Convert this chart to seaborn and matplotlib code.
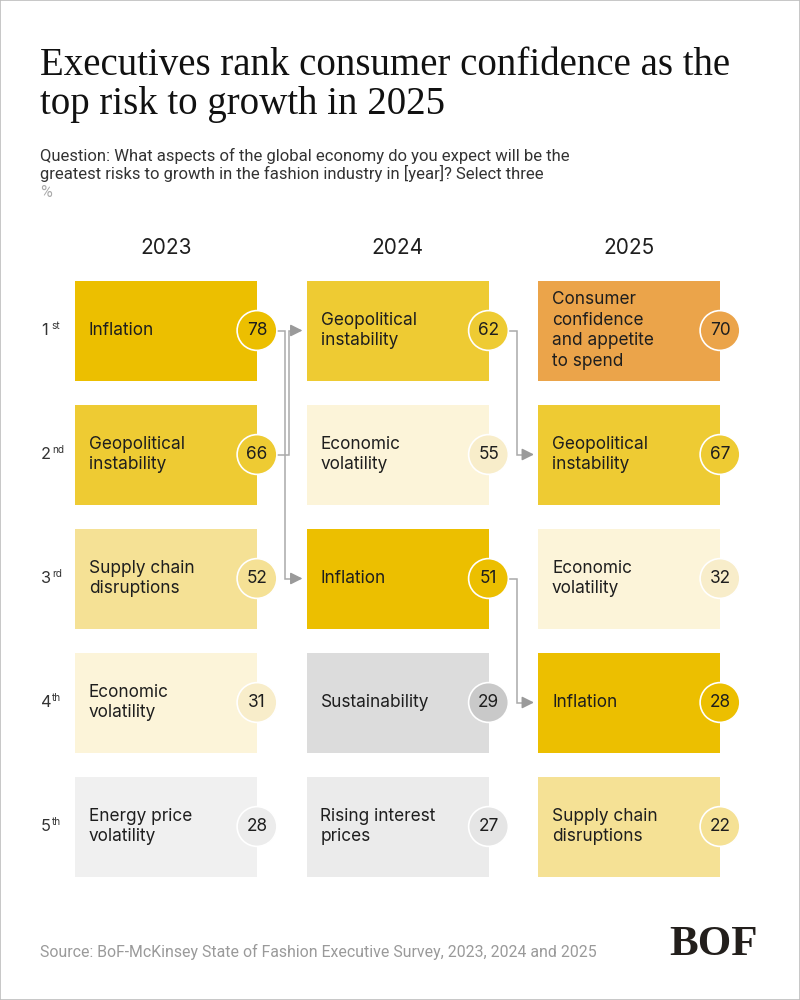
import numpy as np
import pandas as pd
import matplotlib
matplotlib.use("Agg")
import matplotlib.pyplot as plt
import seaborn as sns
from matplotlib.patches import Rectangle

# ---------------- data ----------------
years = ["2023", "2024", "2025"]
ranks = [1, 2, 3, 4, 5]
rank_suffixes = ["st", "nd", "rd", "th", "th"]

risks_2023 = ["Inflation", "Geopolitical\ninstability", "Supply chain\ndisruptions",
              "Economic\nvolatility", "Energy price\nvolatility"]
values_2023 = [78, 66, 52, 31, 28]

risks_2024 = ["Geopolitical\ninstability", "Economic\nvolatility", "Inflation",
              "Sustainability", "Rising interest\nprices"]
values_2024 = [62, 55, 51, 29, 27]

risks_2025 = ["Consumer\nconfidence\nand appetite\nto spend", "Geopolitical\ninstability",
              "Economic\nvolatility", "Inflation", "Supply chain\ndisruptions"]
values_2025 = [70, 67, 32, 28, 22]

tracked_risks = ["Inflation", "Geopolitical instability"]

box_colors = {
    "Inflation": "#ECBF00",
    "Geopolitical instability": "#EECB33",
    "Supply chain disruptions": "#F5E195",
    "Economic volatility": "#FCF4D9",
    "Energy price volatility": "#F0F0F0",
    "Sustainability": "#DCDCDC",
    "Rising interest prices": "#EBEBEB",
    "Consumer confidence and appetite to spend": "#EBA44A",
}
circle_colors = {
    "Inflation": "#ECBF00",
    "Geopolitical instability": "#EECB33",
    "Supply chain disruptions": "#F5E195",
    "Economic volatility": "#F8EDCA",
    "Energy price volatility": "#ECECEC",
    "Sustainability": "#C9C9C9",
    "Rising interest prices": "#E5E5E5",
    "Consumer confidence and appetite to spend": "#EBA44A",
}

title_lines = ["Executives rank consumer confidence as the", "top risk to growth in 2025"]
subtitle_lines = ["Question: What aspects of the global economy do you expect will be the",
                  "greatest risks to growth in the fashion industry in [year]? Select three"]
unit_label = "%"
source_text = "Source: BoF-McKinsey State of Fashion Executive Survey, 2023, 2024 and 2025"
logo_text = "BOF"

# ---------------- tidy frame ----------------
rows = []
for ci, (yr, labels, vals) in enumerate(zip(years, [risks_2023, risks_2024, risks_2025],
                                            [values_2023, values_2024, values_2025])):
    for r, lab, v in zip(ranks, labels, vals):
        rows.append({"year": yr, "col": ci, "rank": r, "label": lab,
                     "risk": lab.replace("\n", " "), "value": v})
df = pd.DataFrame(rows)

# ---------------- style ----------------
sns.set_theme(style="white")
plt.rcParams["font.family"] = ["Inter", "DejaVu Sans"]
TEXT = "#1E1E1E"

W, H = 800, 1000
fig = plt.figure(figsize=(W / 100, H / 100), dpi=100)
fig.patch.set_facecolor("white")
ax = fig.add_axes([0, 0, 1, 1])

# scale: 1 column unit = COLX px, 1 rank unit = ROWY px
COLX, ROWY = 231.5, 124.0
X0, Y0 = 75.0, 330.5            # pixel of column 0 left edge / rank 1 centre
ax.set_xlim(-X0 / COLX, (W - X0) / COLX)
ax.set_ylim(1 + (H - Y0) / ROWY, 1 - Y0 / ROWY)
ax.axis("off")

BOX_W = 182 / COLX
BOX_H = 100 / ROWY
PX = 1 / COLX                  # one pixel in x data units

# boxes
ax.barh(df["rank"], BOX_W, left=df["col"], height=BOX_H,
        color=[box_colors[k] for k in df["risk"]], linewidth=0, zorder=1)

# box labels
for _, rw in df.iterrows():
    ax.text(rw["col"] + 14 * PX, rw["rank"], rw["label"], ha="left", va="center",
            fontsize=12.4, color=TEXT, linespacing=1.27, zorder=4)

# circles
df["cx"] = df["col"] + BOX_W
sns.scatterplot(data=df, x="cx", y="rank", hue="risk", palette=circle_colors,
                s=820, edgecolor="white", linewidth=1.2, legend=False, ax=ax, zorder=3)
for _, rw in df.iterrows():
    ax.text(rw["cx"], rw["rank"], str(rw["value"]), ha="center", va="center",
            fontsize=12.4, color=TEXT, zorder=5)

# year headers
for ci, yr in enumerate(years):
    ax.text(ci + BOX_W / 2, 1 + (248 - Y0) / ROWY, yr, ha="center", va="center",
            fontsize=15, color=TEXT)

# rank labels
for r, suf in zip(ranks, rank_suffixes):
    ax.annotate(str(r), xy=(-34 * PX, r), ha="left", va="center",
                fontsize=11.8, color="#333333")
    ax.annotate(suf, xy=(-34 * PX, r), xytext=(7.8, 3.5), textcoords="offset points",
                ha="left", va="center", fontsize=7.2, color="#333333")

# connectors for tracked risks
R = 20 * PX
LINE = "#AAAAAA"
for risk in tracked_risks:
    sub = df[df["risk"] == risk].sort_values("col")
    for (_, a), (_, b) in zip(sub.iloc[:-1].iterrows(), sub.iloc[1:].iterrows()):
        if b["col"] != a["col"] + 1:
            continue
        x_start = a["cx"] + R
        x_elbow = x_start + (12 if b["rank"] < a["rank"] else 8) * PX
        x_tip = b["col"] - 4 * PX
        ax.plot([x_start, x_elbow, x_elbow, x_tip - 6 * PX],
                [a["rank"], a["rank"], b["rank"], b["rank"]],
                color=LINE, lw=1.1, solid_joinstyle="miter", zorder=2)
        ax.annotate("", xy=(x_tip, b["rank"]), xytext=(x_tip - 9 * PX, b["rank"]),
                    arrowprops=dict(arrowstyle="-|>,head_length=0.6,head_width=0.3",
                                    color="#9A9A9A", lw=1.1, shrinkA=0, shrinkB=0),
                    zorder=2)

# ---------------- titles ----------------
for i, line in enumerate(title_lines):
    fig.text(40 / W, 1 - (75 + i * 39) / H, line, ha="left", va="baseline",
             fontsize=28, family=["Liberation Serif"], color="#111111")
for i, line in enumerate(subtitle_lines):
    fig.text(40 / W, 1 - (161 + i * 18) / H, line, ha="left", va="baseline",
             fontsize=12, family=["Roboto", "DejaVu Sans"], color="#333333")
fig.text(40 / W, 1 - 197 / H, unit_label, ha="left", va="baseline",
         fontsize=11.5, family=["Roboto", "DejaVu Sans"], color="#AAAAAA")

fig.text(40 / W, 1 - 957 / H, source_text, ha="left", va="baseline",
         fontsize=11.4, family=["Roboto", "DejaVu Sans"], color="#9A9A9A")
fig.text(714 / W, 1 - 955 / H, logo_text, ha="center", va="baseline",
         fontsize=31, family=["Liberation Serif"], fontweight="bold", color="#231F1C")

fig.patches.append(Rectangle((0, 0), 1, 1, transform=fig.transFigure, fill=False,
                             edgecolor="#BDBDBD", linewidth=1.2))

fig.savefig("out.png", dpi=100, facecolor="white")
